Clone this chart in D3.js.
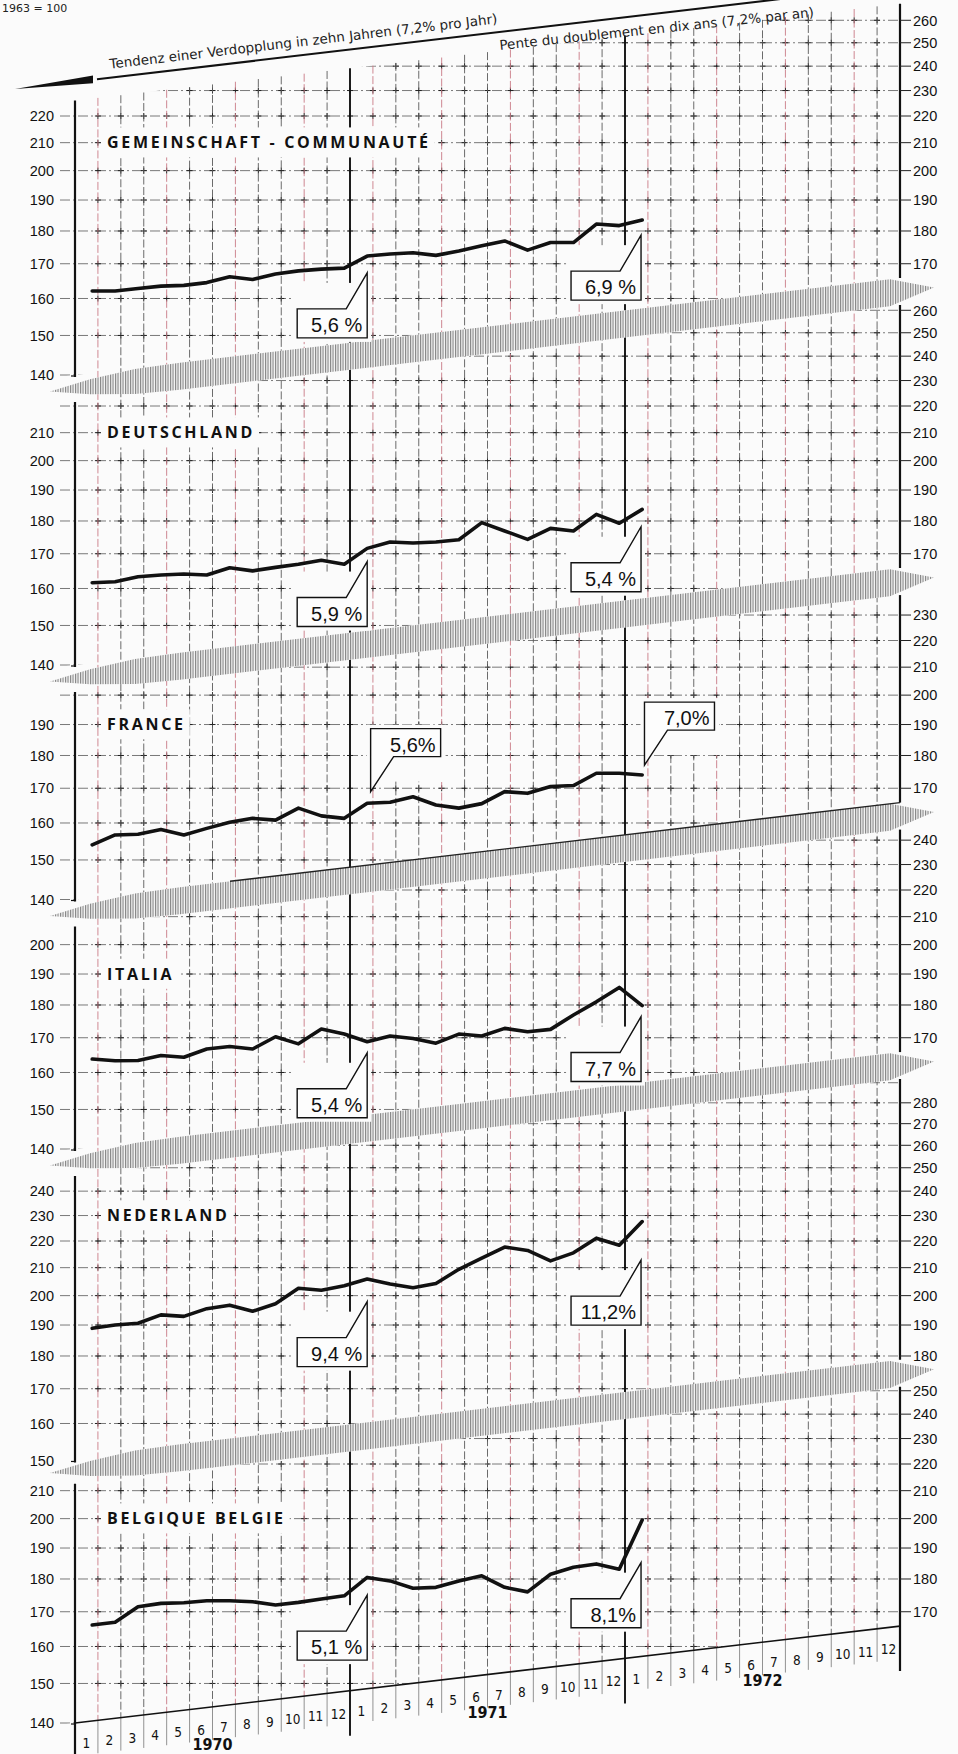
<!DOCTYPE html>
<html lang="de">
<head>
<meta charset="utf-8">
<script src="https://cdn.jsdelivr.net/npm/d3@7"></script>
<style>
  body { margin: 0; background: #fbfbfb; }
  svg { display: block; }
  .tick { font-family: "Liberation Sans", Arial, sans-serif; font-size: 14.5px; fill: #111; }
  .title { font-family: "Open Sans", "DejaVu Sans", sans-serif; font-weight: 700; font-size: 16px; letter-spacing: 2.7px; fill: #111; }
  .rate { font-family: "Liberation Sans", Arial, sans-serif; font-size: 20px; fill: #111; }
  .month { font-family: "Liberation Sans Narrow", "DejaVu Sans Condensed", sans-serif; font-size: 13.5px; fill: #111; }
  .year { font-family: "Liberation Sans Narrow", "DejaVu Sans Condensed", sans-serif; font-size: 16px; font-weight: 700; fill: #111; }
  .head { font-family: "DejaVu Sans", sans-serif; font-size: 13.5px; fill: #222; }
  .corner { font-family: "DejaVu Sans", sans-serif; font-size: 11px; fill: #222; }
</style>
</head>
<body>
<div id="chart"></div>
<script>
// ---- data (index numbers, 1963 = 100, Jan 1970 .. Jan 1972) ----
const monthLabels = ["1","2","3","4","5","6","7","8","9","10","11","12"];
const years = ["1970", "1971", "1972"];
const titles = ["GEMEINSCHAFT - COMMUNAUTÉ", "DEUTSCHLAND", "FRANCE", "ITALIA", "NEDERLAND", "BELGIQUE BELGIE"];

const gemeinschaft = [162.1,162.1,162.8,163.5,163.7,164.5,166.2,165.4,167.0,167.9,168.4,168.7,172.3,172.9,173.3,172.5,173.8,175.4,176.9,174.1,176.4,176.4,182.2,181.7,183.5];
const deutschland  = [161.6,161.9,163.3,163.8,164.1,163.8,165.9,165.0,166.0,166.9,168.1,166.9,171.6,173.5,173.2,173.5,174.2,179.5,176.9,174.3,177.7,176.9,182.1,179.3,183.7];
const france       = [154.0,156.7,156.9,158.2,156.7,158.5,160.2,161.3,160.8,164.2,162.0,161.3,165.6,165.9,167.5,165.1,164.2,165.5,169.0,168.5,170.5,170.8,174.5,174.5,174.0];
const italia       = [163.8,163.3,163.4,164.8,164.3,166.7,167.4,166.7,170.3,168.2,172.6,171.1,168.8,170.5,169.8,168.4,171.1,170.5,172.8,171.8,172.5,176.9,181.0,185.6,179.8];
const nederland    = [188.9,190.0,190.6,193.4,192.9,195.5,196.7,194.6,197.2,202.6,201.9,203.5,205.9,204.1,202.8,204.3,209.4,213.5,217.7,216.4,212.5,215.5,221.1,218.4,227.6];
const belgique     = [166.1,166.9,171.5,172.5,172.7,173.3,173.3,173.0,172.0,172.8,173.8,174.8,180.5,179.4,177.1,177.4,179.4,181.0,177.4,176.0,181.5,183.7,184.8,183.1,199.5];
const series = [gemeinschaft, deutschland, france, italia, nederland, belgique];

const leftTicks = [
  [140,150,160,170,180,190,200,210,220],
  [140,150,160,170,180,190,200,210],
  [140,150,160,170,180,190],
  [140,150,160,170,180,190,200],
  [150,160,170,180,190,200,210,220,230,240],
  [140,150,160,170,180,190,200,210]
];
const rightTicks = [
  [170,180,190,200,210,220,230,240,250,260],
  [170,180,190,200,210,220,230,240,250,260],
  [170,180,190,200,210,220,230],
  [170,180,190,200,210,220,230,240],
  [180,190,200,210,220,230,240,250,260,270,280],
  [170,180,190,200,210,220,230,240,250]
];

// growth rate boxes: Dec 1970 and Dec 1971
const rate1970 = ["5,6 %", "5,9 %", "5,6%", "5,4 %", "9,4 %", "5,1 %"];
const rate1971 = ["6,9 %", "5,4 %", "7,0%", "7,7 %", "11,2%", "8,1%"];
// index level the pointer of each box touches
const tip1970 = [167.3, 167.7, 169.0, 165.6, 197.9, 175.0];
const tip1971 = [178.7, 178.2, 177.0, 176.4, 212.8, 185.2];

// ---- layout ----
const W = 958, H = 1754;
const X0 = 75, X1 = 900, NM = 36;
const MW = (X1 - X0) / NM;
const PX_LN = 573;                 // pixels per natural-log unit on every panel
const TREND = 1.058;               // slope of the printed trend bands, per year
const BAND_H = 27;
const panelY140 = [375, 665, 899.5, 1149, 1500, 1723];
const lowerBase = [140, 140, 140, 140, 151, 140];
const topBase = 226, headBase = 233.5;
const titleAt = [210, 210, 190, 190, 230, 200];
const boxAbove = [false, false, true, false, false, false];

const x = d3.scaleLinear().domain([0, NM]).range([X0, X1]);
const ys = panelY140.map(y0 => d3.scaleLog().domain([140, 280]).range([y0, y0 - PX_LN * Math.LN2]));
const grow = pos => Math.pow(TREND, pos / 12);
const lowerY = (p, px) => ys[p](lowerBase[p] * grow(x.invert(px)));
const upperY = (p, px) => p === 0 ? ys[0](topBase * grow(x.invert(px))) : lowerY(p - 1, px) + BAND_H;
const headY = px => ys[0](headBase * grow(x.invert(px)));
const slopeDeg = Math.atan(PX_LN * Math.log(TREND) / 12 / MW) * 180 / Math.PI;

const svg = d3.select("#chart").append("svg").attr("width", W).attr("height", H);
svg.append("rect").attr("width", W).attr("height", H).attr("fill", "#fbfbfb");
const defs = svg.append("defs");

const hatch = defs.append("pattern").attr("id", "hatch")
  .attr("width", 2.5).attr("height", 10).attr("patternUnits", "userSpaceOnUse");
hatch.append("rect").attr("width", 2.5).attr("height", 10).attr("fill", "#f6f6f6");
hatch.append("line").attr("x1", 0.6).attr("x2", 0.6).attr("y1", 0).attr("y2", 10)
  .attr("stroke", "#6e6e6e").attr("stroke-width", 0.95);

series.forEach((_, p) => {
  const xa = 56, xb = 902;
  defs.append("clipPath").attr("id", "clip" + p).append("polygon")
    .attr("points", [[xa, upperY(p, xa)], [xb, upperY(p, xb)], [xb, lowerY(p, xb)], [xa, lowerY(p, xa)]].join(" "));
});

// ---- grid ----
const levels = d3.range(100, 310, 10);
const gridPos = d3.range(1, NM).filter(d => d % 12 !== 0);

series.forEach((_, p) => {
  const g = svg.append("g").attr("clip-path", `url(#clip${p})`);
  g.selectAll("line").data(levels).join("line")
    .attr("x1", 60).attr("x2", X1)
    .attr("y1", v => ys[p](v)).attr("y2", v => ys[p](v))
    .attr("stroke", "#6a6a6a").attr("stroke-width", 0.9)
    .attr("stroke-dasharray", "10,3,2,3");
  let cross = "";
  levels.forEach(v => {
    d3.range(1, NM).forEach(pos => {
      const cx = x(pos), cy = ys[p](v);
      if (cy > upperY(p, cx) + 3 && cy < lowerY(p, cx) - 3)
        cross += `M${cx - 3},${cy}h6M${cx},${cy - 3}v6`;
    });
  });
  g.append("path").attr("d", cross).attr("stroke", "#222").attr("stroke-width", 1).attr("fill", "none");
});

svg.append("g").selectAll("line").data(gridPos).join("line")
  .attr("x1", d => x(d)).attr("x2", d => x(d))
  .attr("y1", d => upperY(0, x(d))).attr("y2", d => lowerY(5, x(d)))
  .attr("stroke", d => d % 3 === 1 ? "#c97a86" : "#5a5a5a")
  .attr("stroke-width", 0.9).attr("stroke-dasharray", "8,2.5");

// separators of the month label row
svg.append("g").selectAll("line").data(gridPos).join("line")
  .attr("x1", d => x(d)).attr("x2", d => x(d))
  .attr("y1", d => lowerY(5, x(d))).attr("y2", d => lowerY(5, x(d)) + 33)
  .attr("stroke", "#777").attr("stroke-width", 0.8);

// ---- axes and year lines ----
const axes = svg.append("g").attr("stroke", "#111").attr("stroke-width", 2.2);
series.forEach((_, p) => {
  const bottomL = Math.max(lowerY(p, X0), ys[p](leftTicks[p][0]) + 2);
  axes.append("line").attr("x1", X0).attr("x2", X0).attr("y1", upperY(p, X0)).attr("y2", p === 5 ? H : bottomL);
  axes.append("line").attr("x1", X1).attr("x2", X1).attr("y1", upperY(p, X1))
    .attr("y2", p === 5 ? lowerY(5, X1) + 45 : lowerY(p, X1));
  axes.append("line").attr("x1", X0 - 4).attr("x2", X0).attr("y1", bottomL - 1).attr("y2", bottomL - 1).attr("stroke-width", 1.2);
});
[12, 24].forEach(pos => {
  axes.append("line").attr("x1", x(pos)).attr("x2", x(pos))
    .attr("y1", upperY(0, x(pos))).attr("y2", lowerY(5, x(pos)) + 45).attr("stroke-width", 1.9);
});

// ---- trend bands between panels ----
const bands = svg.append("g");
d3.range(0, 5).forEach(p => {
  const top = px => lowerY(p, px);
  const pts = [[50, top(50) + BAND_H / 2], [90, top(90) + 6], [135, top(135) + 1], [180, top(180)],
               [890, top(890)], [934, top(934) + BAND_H / 2], [890, top(890) + BAND_H],
               [180, top(180) + BAND_H], [135, top(135) + BAND_H - 1], [90, top(90) + BAND_H - 6]];
  bands.append("polygon").attr("points", pts.join(" ")).attr("fill", "#fbfbfb");
  bands.append("polygon").attr("points", pts.join(" ")).attr("fill", "url(#hatch)");
});
// solid trend lines under France and Belgique
bands.append("line").attr("x1", 230).attr("x2", X1)
  .attr("y1", lowerY(2, 230)).attr("y2", lowerY(2, X1)).attr("stroke", "#222").attr("stroke-width", 1.4);
bands.append("line").attr("x1", X0).attr("x2", X1)
  .attr("y1", lowerY(5, X0)).attr("y2", lowerY(5, X1)).attr("stroke", "#111").attr("stroke-width", 1.6);

// ---- panel titles ----
series.forEach((_, p) => {
  const t = svg.append("text").attr("class", "title")
    .attr("x", 107).attr("y", ys[p](titleAt[p])).attr("dy", "0.36em").text(titles[p]);
  const b = t.node().getBBox();
  svg.insert("rect", () => t.node())
    .attr("x", b.x - 6).attr("y", b.y - 4).attr("width", b.width + 10).attr("height", b.height + 8)
    .attr("fill", "#fbfbfb");
});

// ---- growth-rate boxes ----
const boxes = svg.append("g");
function callout(p, pos, val, label, above) {
  const tx = x(pos), ty = ys[p](val);
  let pts, mask, textX, textY;
  if (!above) {
    const top = ty + 36, bot = top + 29, left = tx - 70;
    pts = [[left, top], [tx - 21, top], [tx, ty], [tx, bot], [left, bot]];
    mask = [left - 5, ty + 10, tx + 9 - left, bot - ty - 6];
    textX = tx - 5; textY = bot - 6;
  } else {
    const bot = ty - 35, top = bot - 28, right = tx + 70;
    pts = [[tx, top], [right, top], [right, bot], [tx + 23, bot], [tx, ty]];
    mask = [tx - 4, top - 4, right - tx + 9, ty - top - 6];
    textX = right - 5; textY = bot - 5;
  }
  boxes.append("rect").attr("x", mask[0]).attr("y", mask[1]).attr("width", mask[2]).attr("height", mask[3])
    .attr("fill", "#fbfbfb");
  boxes.append("polygon").attr("points", pts.join(" "))
    .attr("fill", "#fdfdfd").attr("stroke", "#111").attr("stroke-width", 1.4).attr("stroke-linejoin", "miter");
  boxes.append("text").attr("class", "rate").attr("x", textX).attr("y", textY)
    .attr("text-anchor", "end").text(label);
}
series.forEach((_, p) => {
  callout(p, boxAbove[p] ? 12.9 : 12.75, tip1970[p], rate1970[p], boxAbove[p]);
  callout(p, boxAbove[p] ? 24.85 : 24.7, tip1971[p], rate1971[p], boxAbove[p]);
});

// ---- index lines ----
series.forEach((data, p) => {
  const line = d3.line().x((d, i) => x(i + 0.75)).y(d => ys[p](d));
  svg.append("path").datum(data).attr("d", line)
    .attr("fill", "none").attr("stroke", "#111").attr("stroke-width", 3.6)
    .attr("stroke-linejoin", "round").attr("stroke-linecap", "round");
});

// ---- tick labels ----
const labels = svg.append("g");
series.forEach((_, p) => {
  labels.selectAll(null).data(leftTicks[p]).join("text").attr("class", "tick")
    .attr("x", 54).attr("y", v => ys[p](v)).attr("dy", "0.36em").attr("text-anchor", "end").text(v => v);
  labels.selectAll(null).data(rightTicks[p]).join("line")
    .attr("x1", X1).attr("x2", X1 + 11).attr("y1", v => ys[p](v)).attr("y2", v => ys[p](v))
    .attr("stroke", "#222").attr("stroke-width", 1);
  labels.selectAll(null).data(rightTicks[p]).join("text").attr("class", "tick")
    .attr("x", X1 + 13).attr("y", v => ys[p](v)).attr("dy", "0.36em").text(v => v);
});

// month and year labels along the bottom trend line
const cells = d3.range(0, NM);
labels.selectAll(null).data(cells).join("text").attr("class", "month")
  .attr("x", i => x(i + 0.5)).attr("y", i => lowerY(5, x(i + 0.5)) + 26.5)
  .attr("text-anchor", "middle").text(i => monthLabels[i % 12]);
labels.selectAll(null).data(years).join("text").attr("class", "year")
  .attr("x", (d, j) => x(6 + 12 * j)).attr("y", (d, j) => lowerY(5, x(6 + 12 * j)) + 43.5)
  .attr("text-anchor", "middle").text(d => d);

// ---- header arrow ----
const head = svg.append("g");
head.append("line").attr("x1", 97).attr("x2", 790).attr("y1", headY(97)).attr("y2", headY(790))
  .attr("stroke", "#111").attr("stroke-width", 2);
head.append("polygon")
  .attr("points", [[15, headY(15)], [93, headY(93) - 4.2], [93, headY(93) + 3.6]].join(" "))
  .attr("fill", "#111");
head.append("text").attr("class", "head")
  .attr("transform", `translate(110,${headY(110) - 9}) rotate(${-slopeDeg})`)
  .text("Tendenz einer Verdopplung in zehn Jahren (7,2% pro Jahr)");
head.append("text").attr("class", "head")
  .attr("transform", `translate(500,${headY(500) + 18}) rotate(${-slopeDeg * 0.9})`)
  .text("Pente du doublement en dix ans (7,2% par an)");
head.append("text").attr("class", "corner").attr("x", 2).attr("y", 12).text("1963 = 100");
</script>
</body>
</html>
